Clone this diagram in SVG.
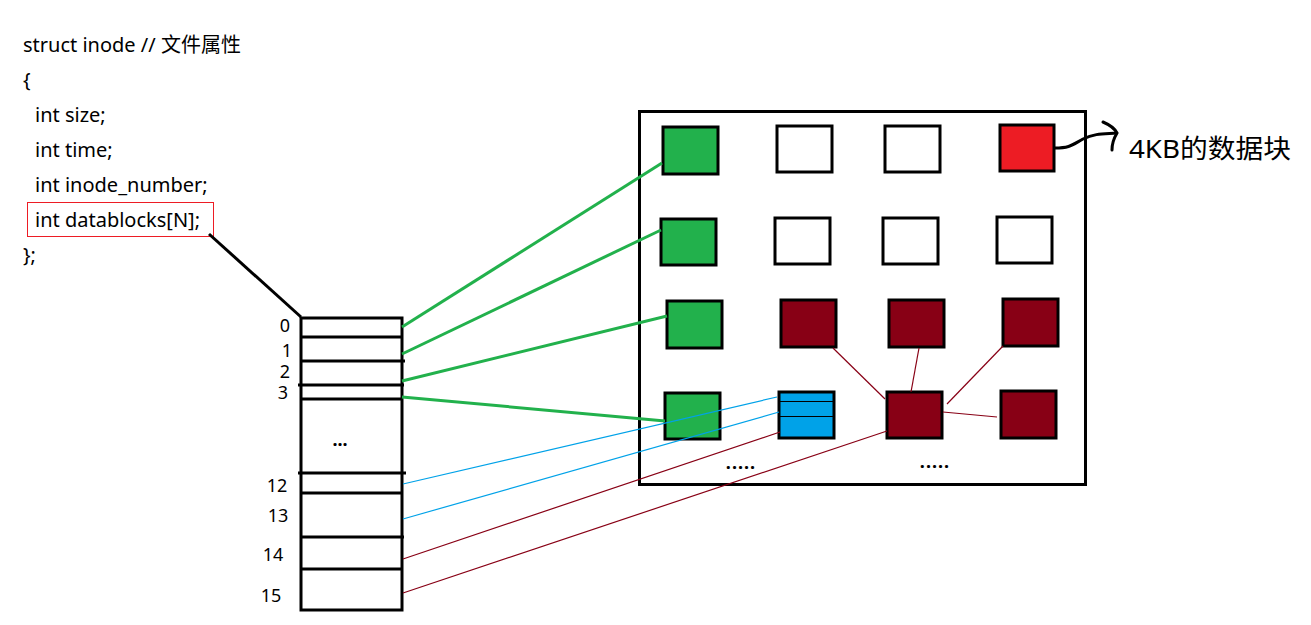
<svg xmlns="http://www.w3.org/2000/svg" width="1311" height="625" viewBox="0 0 1311 625">
<style>
.t{font-family:"Noto Sans","Noto Sans CJK SC",sans-serif;fill:#000}
.code{font-size:20px}
.num{font-size:18px}
.blk{stroke:#000;stroke-width:3}
.g{fill:#22b14c}
.w{fill:#fff}
.r{fill:#ed1c24}
.dr{fill:#880015}
.b{fill:#00a2e8}
.gl{stroke:#22b14c;stroke-width:3;fill:none}
.bl{stroke:#00a2e8;stroke-width:1.2;fill:none}
.rl{stroke:#880015;stroke-width:1.2;fill:none}
</style>
<rect width="1311" height="625" fill="#fff"/>
<g id="struct">
<text class="t code" x="23" y="52">struct inode // 文件属性</text>
<text class="t code" x="23" y="87">{</text>
<text class="t code" x="35" y="122">int size;</text>
<text class="t code" x="35" y="157">int time;</text>
<text class="t code" x="35" y="192">int inode_number;</text>
<text class="t code" x="35" y="227">int datablocks[N];</text>
<rect x="27.5" y="202.5" width="186" height="34" fill="none" stroke="#ed1c24" stroke-width="1"/>
<text class="t code" x="23" y="262">};</text>
</g>
<g id="table">
<rect x="301" y="318" width="101" height="292" fill="#fff" class="blk"/>
<g class="blk">
<line x1="301" y1="337" x2="403" y2="337"/>
<line x1="301" y1="361" x2="405" y2="361"/>
<line x1="298" y1="385" x2="404" y2="385"/>
<line x1="301" y1="399" x2="402" y2="399"/>
<line x1="298" y1="473" x2="406" y2="473"/>
<line x1="301" y1="493" x2="402" y2="493"/>
<line x1="301" y1="537" x2="404" y2="537"/>
<line x1="301" y1="569" x2="402" y2="569"/>
</g>
<text class="t num" x="285" y="332" text-anchor="middle">0</text>
<text class="t num" x="287" y="357" text-anchor="middle">1</text>
<text class="t num" x="285" y="378" text-anchor="middle">2</text>
<text class="t num" x="283" y="399" text-anchor="middle">3</text>
<text class="t num" x="340" y="446" text-anchor="middle" font-weight="bold">...</text>
<text class="t num" x="277" y="492" text-anchor="middle">12</text>
<text class="t num" x="278" y="522" text-anchor="middle">13</text>
<text class="t num" x="273" y="561" text-anchor="middle">14</text>
<text class="t num" x="271" y="602" text-anchor="middle">15</text>
</g>
<g id="disk">
<rect x="639.5" y="111.5" width="446" height="373" fill="none" class="blk"/>
<rect x="663" y="127" width="55" height="47" class="g blk"/>
<rect x="777" y="126" width="55" height="46" class="w blk"/>
<rect x="885" y="126" width="55" height="46" class="w blk"/>
<rect x="1000" y="125" width="54" height="46" class="r blk"/>
<rect x="661" y="219" width="55" height="46" class="g blk"/>
<rect x="775" y="218" width="55" height="46" class="w blk"/>
<rect x="883" y="218" width="55" height="46" class="w blk"/>
<rect x="997" y="217" width="55" height="46" class="w blk"/>
<rect x="667" y="301" width="55" height="47" class="g blk"/>
<rect x="781" y="300" width="55" height="47" class="dr blk"/>
<rect x="889" y="300" width="55" height="47" class="dr blk"/>
<rect x="1003" y="299" width="55" height="47" class="dr blk"/>
<rect x="665" y="393" width="55" height="46" class="g blk"/>
<rect x="779" y="392" width="55" height="46" class="b blk"/>
<line x1="779" y1="401.5" x2="834" y2="401.5" stroke="#000" stroke-width="1"/>
<line x1="779" y1="416.5" x2="834" y2="416.5" stroke="#000" stroke-width="1"/>
<rect x="887" y="392" width="55" height="46" class="dr blk"/>
<rect x="1001" y="391" width="55" height="47" class="dr blk"/>
<text class="t" x="741" y="469" font-size="18" font-weight="bold" text-anchor="middle" letter-spacing="1">.....</text>
<text class="t" x="935" y="468" font-size="18" font-weight="bold" text-anchor="middle" letter-spacing="1">.....</text>
</g>
<g id="label">
<path d="M1055 148 C1070 148 1072 145 1083 139 C1095 133 1105 134 1117 133" fill="none" stroke="#000" stroke-width="3"/>
<path d="M1103 122 C1110 125 1115 129 1117 133 C1114 138 1112 144 1112 150" fill="none" stroke="#000" stroke-width="3" stroke-linecap="round"/>
<text class="t" x="1129" y="158" font-size="26" textLength="162" lengthAdjust="spacingAndGlyphs">4KB的数据块</text>
</g>
<g id="connectors">
<line x1="209" y1="234" x2="301" y2="317" class="blk"/>
<line x1="402" y1="327" x2="662" y2="163" class="gl"/>
<line x1="402" y1="354" x2="661" y2="230" class="gl"/>
<line x1="402" y1="381" x2="667" y2="316" class="gl"/>
<line x1="402" y1="397" x2="665" y2="421" class="gl"/>
<line x1="403" y1="484" x2="777" y2="397" class="bl"/>
<line x1="403" y1="519" x2="779" y2="412" class="bl"/>
<line x1="403" y1="559" x2="780" y2="432" class="rl"/>
<line x1="403" y1="593" x2="887" y2="431" class="rl"/>
<line x1="833" y1="348" x2="885" y2="399" class="rl"/>
<line x1="919" y1="348" x2="911" y2="392" class="rl"/>
<line x1="1003" y1="346" x2="947" y2="404" class="rl"/>
<line x1="943" y1="412" x2="997" y2="417" class="rl"/>
</g>
</svg>
